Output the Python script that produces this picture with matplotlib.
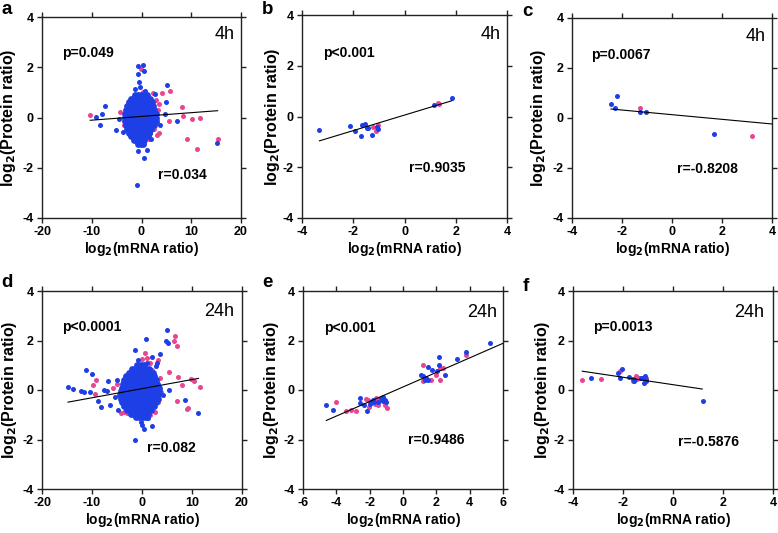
import matplotlib
matplotlib.use("Agg")
import matplotlib.pyplot as plt
import numpy as np

plt.rcParams['font.family'] = ['Liberation Sans', 'DejaVu Sans']

BLUE = '#1f3fe6'
PINK = '#e8468f'

# ---------------- Panel a (4h, all) ----------------
a_core_rows = [
    (0.90, [-1.4, -0.8, -0.1, 0.5, 1.1]),
    (0.75, [-2.1, -1.5, -0.9, -0.2, 0.5, 1.2, 1.8]),
    (0.60, [-2.6, -2.0, -1.4, -0.7, 0.0, 0.7, 1.4, 2.1]),
    (0.45, [-2.9, -2.3, -1.7, -1.1, -0.4, 0.3, 1.0, 1.7, 2.4]),
    (0.30, [-3.1, -2.4, -1.7, -1.0, -0.3, 0.4, 1.1, 1.8, 2.6]),
    (0.15, [-3.3, -2.6, -1.9, -1.2, -0.5, 0.2, 0.9, 1.6, 2.3, 2.9]),
    (0.00, [-3.4, -2.7, -2.0, -1.2, -0.5, 0.2, 0.9, 1.6, 2.3, 3.0]),
    (-0.15, [-3.3, -2.6, -1.9, -1.2, -0.5, 0.2, 0.9, 1.6, 2.3, 2.9]),
    (-0.30, [-3.1, -2.4, -1.7, -1.0, -0.3, 0.4, 1.1, 1.8, 2.5]),
    (-0.45, [-2.9, -2.2, -1.5, -0.8, -0.1, 0.6, 1.3, 2.0]),
    (-0.60, [-2.6, -1.9, -1.2, -0.5, 0.2, 0.9, 1.6]),
    (-0.75, [-2.1, -1.4, -0.7, 0.0, 0.7, 1.3]),
    (-0.90, [-1.5, -0.8, -0.1, 0.6]),
    (-1.05, [-0.8, -0.1, 0.4]),
]
a_blue_x = [-9.1, -8.3, -7.9, -7.3, -5.1, -3.7, -4.6, -0.8, 0.27, -0.8, 0.5, -0.6, -0.4,
            5.2, 2.7, 4.9, 4.7, 7.2, 15.2, -0.8, 1.1, 0.5, -0.9, 1.7, -0.9, 1.9, 3.8, -1.3, 0.8]
a_blue_y = [0.01, -0.28, 0.15, 0.47, -0.51, -0.56, -0.05, 2.04, 2.08, 1.72, 1.87, 1.41, 1.20,
            1.28, 0.93, 0.60, 0.15, -0.12, -1.00, -1.32, -1.31, -1.63, -2.69, -0.60, -0.96, -0.85, -0.30, 1.15, 1.05]
a_pink_x = [-10.3, -4.3, -3.5, 2.4, 4.2, 5.7, 5.6, 8.4, 8.1, 10.1, 11.7, 9.1, 11.1, 15.4,
            3.1, 3.5, -0.2, 0.3, 1.6, 2.6, -0.5, 0.5, 1.5, 3.3, 3.6, 2.9, 3.2]
a_pink_y = [0.08, 0.21, -0.30, 0.96, 0.96, 1.04, -0.12, 0.07, 0.41, -0.07, -0.03, -0.84, -1.24, -0.84,
            -0.69, -0.60, 1.95, 1.00, -0.40, -0.45, -0.90, -1.00, -0.85, 0.30, 0.55, 0.70, -0.20]
a_fit = (0.0149, 0.043)
a_fit_range = (-10.3, 15.3)

# ---------------- Panel b (4h) ----------------
b_blue_x = [-3.32, -2.12, -1.92, -1.70, -1.66, -1.54, -1.46, -1.42, -1.28, -1.06, -1.03, 1.14, 1.84]
b_blue_y = [-0.55, -0.36, -0.59, -0.75, -0.33, -0.28, -0.46, -0.46, -0.74, -0.43, -0.49, 0.46, 0.72]
b_pink_x = [-1.22, -1.12, -1.02, 1.32, 1.36]
b_pink_y = [-0.41, -0.59, -0.33, 0.53, 0.49]
b_fit = (0.306, 0.056)
b_fit_range = (-3.32, 1.84)

# ---------------- Panel c (4h) ----------------
c_blue_x = [-2.44, -2.21, -2.29, -1.29, -1.05, 1.67]
c_blue_y = [0.57, 0.87, 0.40, 0.25, 0.25, -0.65]
c_pink_x = [-1.29, 3.20]
c_pink_y = [0.41, -0.73]
c_fit = (-0.093, 0.133)
c_fit_range = (-2.44, 4.0)

# ---------------- Panel d (24h, all) ----------------
d_core_rows = [
    (1.00, [-1.0, -0.3, 0.4]),
    (0.85, [-2.0, -1.4, -0.7, 0.0, 0.7, 1.3]),
    (0.70, [-2.7, -2.0, -1.3, -0.6, 0.1, 0.8, 1.5, 2.1]),
    (0.55, [-3.2, -2.5, -1.8, -1.1, -0.4, 0.3, 1.0, 1.7, 2.4]),
    (0.40, [-3.6, -2.9, -2.2, -1.5, -0.8, -0.1, 0.6, 1.3, 2.0, 2.7]),
    (0.25, [-3.9, -3.2, -2.5, -1.8, -1.1, -0.4, 0.3, 1.0, 1.7, 2.4, 3.0]),
    (0.10, [-4.1, -3.4, -2.7, -2.0, -1.3, -0.6, 0.1, 0.8, 1.5, 2.2, 2.9, 3.4]),
    (-0.05, [-4.3, -3.6, -2.9, -2.2, -1.5, -0.8, -0.1, 0.6, 1.3, 2.0, 2.7, 3.4]),
    (-0.20, [-4.4, -3.7, -3.0, -2.3, -1.6, -0.9, -0.2, 0.5, 1.2, 1.9, 2.6, 3.2]),
    (-0.35, [-4.3, -3.6, -2.9, -2.2, -1.5, -0.8, -0.1, 0.6, 1.3, 2.0, 2.7, 3.1]),
    (-0.50, [-4.1, -3.4, -2.7, -2.0, -1.3, -0.6, 0.1, 0.8, 1.5, 2.2, 2.8]),
    (-0.65, [-3.7, -3.0, -2.3, -1.6, -0.9, -0.2, 0.5, 1.2, 1.9, 2.4]),
    (-0.80, [-3.1, -2.4, -1.7, -1.0, -0.3, 0.4, 1.1, 1.7]),
    (-0.95, [-2.3, -1.6, -0.9, -0.2, 0.5, 1.1]),
    (-1.10, [-1.3, -0.6, 0.1, 0.7]),
]
d_blue_x = [-14.8, -13.8, -12.3, -11.6, -11.3, -10.1, -10.5, -8.9, -8.3, -7.7, -7.0, -6.8, -6.5,
            -4.8, -5.5, -5.0, -1.5, 0.73, 1.9, 3.5, 2.8, 4.7, 5.2, 5.0, 3.0, 8.5, 11.1, 5.4, 4.2,
            -1.5, 0.3, 2.0, -0.1, 1.2, -0.3, 0.9, -0.8]
d_blue_y = [0.11, 0.03, -0.04, -0.08, 0.80, 0.63, -0.10, -0.44, -0.69, -0.02, -0.05, 0.37, -0.60,
            -0.80, -0.30, 0.40, 1.60, 2.07, 1.33, 1.44, 0.95, 2.00, 1.89, 2.43, 1.10, -0.40, -0.91, 0.00, -0.20,
            -2.00, -1.57, -1.44, -1.40, -1.13, -1.30, 1.10, 1.20]
d_pink_x = [-9.8, -9.3, -9.5, -5.8, -5.1, -4.3, -3.7, -3.0, -2.3, -0.1, 0.5, 1.0, 1.5, 3.2,
            6.5, 6.4, 6.9, 5.4, 7.1, 7.9, 9.7, 10.3, 11.5, 6.9, 9.2, 9.0, 3.5, 3.8, 3.2, 2.5,
            1.5, -1.0, 2.0, -0.5]
d_pink_y = [0.20, 0.40, -0.15, 0.07, 0.23, -0.93, -0.88, -0.92, -0.95, 1.27, 1.49, 1.28, 1.10, 1.20,
            2.20, 2.00, 1.76, 0.73, 0.53, 0.20, 0.43, 0.35, 0.13, -0.43, -0.71, -0.76, 0.50, -0.10, -0.50, -0.90,
            -1.00, -1.00, 0.80, 1.00]
d_fit = (0.0368, 0.054)
d_fit_range = (-14.8, 11.3)

# ---------------- Panel e (24h) ----------------
e_blue_x = [-4.60, -4.18, -2.61, -2.61, -2.33, -2.17, -1.93, -1.81, -1.75, -1.31, -1.21, -1.18, -1.08,
            -1.05, -1.50, -2.00, 1.06, 1.30, 1.35, 1.47, 1.50, 1.75, 2.05, 2.13, 2.13, 2.51, 3.25, 3.78,
            5.20, 1.20]
e_blue_y = [-0.60, -0.79, -0.31, -0.51, -0.60, -0.83, -0.47, -0.40, -0.50, -0.32, -0.27, -0.45, -0.40,
            -0.50, -0.48, -0.55, 0.60, 0.42, 0.48, 0.93, 0.40, 0.80, 0.75, 1.35, 1.00, 0.61, 1.27, 1.55,
            1.90, 0.55]
e_pink_x = [-4.02, -3.43, -3.11, -2.83, -2.21, -2.11, -2.07, -1.61, -1.53, -1.45, -1.10, -0.98, -1.70,
            1.18, 1.26, 1.20, 1.65, 1.97, 2.21, 2.37, 2.23, 3.76, 1.40]
e_pink_y = [-0.47, -0.85, -0.79, -0.84, -0.36, -0.39, -0.67, -0.33, -0.59, -0.45, -0.60, -0.73, -0.55,
            1.00, 0.50, 0.35, 0.40, 0.60, 0.87, 0.87, 0.39, 1.41, 0.45]
e_fit = (0.294, 0.122)
e_fit_range = (-4.6, 6.0)

# ---------------- Panel f (24h) ----------------
f_blue_x = [-3.27, -2.20, -2.04, -2.13, -1.77, -1.60, -1.55, -1.58, -1.30, -1.13, -1.10, -1.07, -1.15, -1.20, 1.20]
f_blue_y = [0.47, 0.67, 0.84, 0.48, 0.53, 0.45, 0.40, 0.35, 0.50, 0.57, 0.42, 0.35, 0.30, 0.48, -0.45]
f_pink_x = [-3.63, -2.89, -2.11, -1.47, -1.45, -1.36, -1.10, -1.60]
f_pink_y = [0.41, 0.45, 0.75, 0.55, 0.45, 0.50, 0.48, 0.38]
f_fit = (-0.150, 0.215)
f_fit_range = (-3.63, 1.17)

def expand(rows):
    xs, ys = [], []
    for y, row in rows:
        for x in row:
            xs.append(x)
            ys.append(y)
    return xs, ys

a_core_x, a_core_y = expand(a_core_rows)
d_core_x, d_core_y = expand(d_core_rows)

panels = [
    dict(letter='a', pos=[42, 17, 241, 218], xlim=(-20, 20), xticks=[-20, -10, 0, 10, 20],
         blue=(a_blue_x, a_blue_y), core=(a_core_x, a_core_y), pink=(a_pink_x, a_pink_y),
         fit=a_fit, fr=a_fit_range, p='p=0.049', r='r=0.034', t='4h',
         ppos=(-16, 2.57), rpos=(3.3, -2.29), tpos=(18.8, 3.3), ylc=-0.12, lpos=(1, 14)),
    dict(letter='b', pos=[302, 15, 507, 218], xlim=(-4, 4), xticks=[-4, -2, 0, 2, 4],
         blue=(b_blue_x, b_blue_y), core=None, pink=(b_pink_x, b_pink_y),
         fit=b_fit, fr=b_fit_range, p='p<0.001', r='r=0.9035', t='4h',
         ppos=(-3.19, 2.49), rpos=(0.17, -2.01), tpos=(3.76, 3.25), ylc=-0.098, lpos=(262, 14)),
    dict(letter='c', pos=[572, 18, 772, 218], xlim=(-4, 4), xticks=[-4, -2, 0, 2, 4],
         blue=(c_blue_x, c_blue_y), core=None, pink=(c_pink_x, c_pink_y),
         fit=c_fit, fr=c_fit_range, p='p=0.0067', r='r=-0.8208', t='4h',
         ppos=(-3.23, 2.53), rpos=(0.2, -2.03), tpos=(3.73, 3.27), ylc=-0.12, lpos=(522, 16)),
    dict(letter='d', pos=[42, 291, 242, 489], xlim=(-20, 20), xticks=[-20, -10, 0, 10, 20],
         blue=(d_blue_x, d_blue_y), core=(d_core_x, d_core_y), pink=(d_pink_x, d_pink_y),
         fit=d_fit, fr=d_fit_range, p='p<0.0001', r='r=0.082', t='24h',
         ppos=(-16, 2.53), rpos=(0.93, -2.33), tpos=(18.5, 3.16), ylc=-0.115, lpos=(1, 287)),
    dict(letter='e', pos=[303, 291, 503, 489], xlim=(-6, 6), xticks=[-6, -4, -2, 0, 2, 4, 6],
         blue=(e_blue_x, e_blue_y), core=None, pink=(e_pink_x, e_pink_y),
         fit=e_fit, fr=e_fit_range, p='p<0.001', r='r=0.9486', t='24h',
         ppos=(-4.76, 2.5), rpos=(0.32, -2.03), tpos=(5.64, 3.13), ylc=-0.11, lpos=(262, 287)),
    dict(letter='f', pos=[573, 291, 773, 489], xlim=(-4, 4), xticks=[-4, -2, 0, 2, 4],
         blue=(f_blue_x, f_blue_y), core=None, pink=(f_pink_x, f_pink_y),
         fit=f_fit, fr=f_fit_range, p='p=0.0013', r='r=-0.5876', t='24h',
         ppos=(-3.2, 2.55), rpos=(0.2, -2.09), tpos=(3.64, 3.13), ylc=-0.105, lpos=(523, 291)),
]

W, H = 778, 533
fig = plt.figure(figsize=(W / 100, H / 100), dpi=100)

for P in panels:
    x0, y0, x1, y1 = P['pos']
    ax = fig.add_axes([x0 / W, 1 - y1 / H, (x1 - x0) / W, (y1 - y0) / H])
    ax.scatter(*P['pink'], s=13, color=PINK, linewidths=0, zorder=2)
    if P['core'] is not None:
        ax.scatter(*P['core'], s=24, color=BLUE, linewidths=0, zorder=3)
    ax.scatter(*P['blue'], s=13, color=BLUE, linewidths=0, zorder=3)
    slope, icpt = P['fit']
    xf = np.array(P['fr'])
    ax.plot(xf, slope * xf + icpt, color='black', lw=0.8, zorder=4)
    ax.set_xlim(*P['xlim'])
    ax.set_ylim(-4, 4)
    ax.set_xticks(P['xticks'])
    ax.set_yticks([-4, -2, 0, 2, 4])
    ax.set_xticklabels([str(v) for v in P['xticks']], fontweight='bold', fontsize=9)
    ax.set_yticklabels(['-4', '-2', '0', '2', '4'], fontweight='bold', fontsize=9)
    ax.tick_params(direction='out', length=3.5, width=1.0, top=True, right=True,
                   color='#222222', pad=2.5)
    for sp in ax.spines.values():
        sp.set_linewidth(1.0)
        sp.set_color('#222222')
    ax.set_xlabel(r'log$_\mathbf{2}$(mRNA ratio)', fontsize=10, fontweight='bold')
    ax.set_ylabel(r'log$_\mathbf{2}$(Protein ratio)', fontsize=11.5, fontweight='bold')
    ax.xaxis.set_label_coords(0.5, -0.11)
    ax.yaxis.set_label_coords(P['ylc'], 0.5)
    ax.text(P['ppos'][0], P['ppos'][1], P['p'], fontsize=10, fontweight='bold', ha='left', va='center')
    ax.text(P['rpos'][0], P['rpos'][1], P['r'], fontsize=10, fontweight='bold', ha='left', va='center')
    ax.text(P['tpos'][0], P['tpos'][1], P['t'], fontsize=13, ha='right', va='center')
    fig.text(P['lpos'][0] / W, 1 - P['lpos'][1] / H, P['letter'], fontsize=13.5, fontweight='bold',
             ha='left', va='baseline')

fig.savefig('out.png', dpi=100)
